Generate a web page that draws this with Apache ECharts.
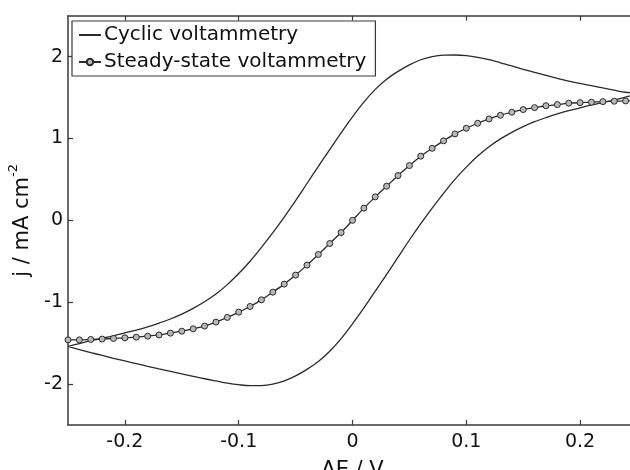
<!DOCTYPE html>
<html>
<head>
<meta charset="utf-8">
<script src="https://cdn.jsdelivr.net/npm/echarts@6/dist/echarts.min.js"></script>
<style>html,body{margin:0;padding:0;background:#fff;}#c{width:630px;height:470px;}</style>
</head>
<body>
<div id="c"></div>
<script>
var xTicks = [-0.2, -0.1, 0, 0.1, 0.2];
var yTicks = [-2, -1, 0, 1, 2];

// Cyclic voltammetry, forward (lower) branch, E increasing
var cvForwardE = [-0.25,-0.24,-0.23,-0.22,-0.21,-0.20,-0.19,-0.18,-0.17,-0.16,-0.15,-0.14,-0.13,-0.12,-0.11,-0.10,-0.09,-0.08,-0.07,-0.06,-0.05,-0.04,-0.03,-0.02,-0.01,0.00,0.01,0.02,0.03,0.04,0.05,0.06,0.07,0.08,0.09,0.10,0.11,0.12,0.13,0.14,0.15,0.16,0.17,0.18,0.19,0.20,0.21,0.22,0.23,0.24,0.25];
var cvForwardJ = [-1.54,-1.578,-1.615,-1.65,-1.685,-1.718,-1.75,-1.783,-1.815,-1.845,-1.875,-1.905,-1.935,-1.962,-1.988,-2.008,-2.02,-2.018,-2.0,-1.962,-1.9,-1.82,-1.725,-1.60,-1.445,-1.265,-1.07,-0.865,-0.66,-0.45,-0.24,-0.04,0.15,0.33,0.50,0.65,0.785,0.90,0.995,1.075,1.145,1.205,1.255,1.30,1.34,1.375,1.41,1.44,1.47,1.505,1.55];

// Cyclic voltammetry, reverse (upper) branch, E decreasing
var cvReverseE = [0.25,0.24,0.23,0.22,0.21,0.20,0.19,0.18,0.17,0.16,0.15,0.14,0.13,0.12,0.11,0.10,0.09,0.08,0.07,0.06,0.05,0.04,0.03,0.02,0.01,0.00,-0.01,-0.02,-0.03,-0.04,-0.05,-0.06,-0.07,-0.08,-0.09,-0.10,-0.11,-0.12,-0.13,-0.14,-0.15,-0.16,-0.17,-0.18,-0.19,-0.20,-0.21,-0.22,-0.23,-0.24,-0.25];
var cvReverseJ = [1.55,1.565,1.59,1.617,1.645,1.672,1.70,1.735,1.77,1.808,1.845,1.888,1.925,1.962,1.992,2.012,2.02,2.018,2.0,1.962,1.9,1.82,1.725,1.60,1.445,1.265,1.07,0.865,0.66,0.45,0.24,0.04,-0.15,-0.33,-0.50,-0.65,-0.785,-0.90,-0.995,-1.075,-1.145,-1.205,-1.255,-1.30,-1.34,-1.375,-1.41,-1.44,-1.47,-1.505,-1.54];

// Steady-state voltammetry (markers every 10 mV)
var ssE = [-0.25,-0.24,-0.23,-0.22,-0.21,-0.20,-0.19,-0.18,-0.17,-0.16,-0.15,-0.14,-0.13,-0.12,-0.11,-0.10,-0.09,-0.08,-0.07,-0.06,-0.05,-0.04,-0.03,-0.02,-0.01,0.00,0.01,0.02,0.03,0.04,0.05,0.06,0.07,0.08,0.09,0.10,0.11,0.12,0.13,0.14,0.15,0.16,0.17,0.18,0.19,0.20,0.21,0.22,0.23,0.24,0.25];
var ssJ = [-1.46,-1.46,-1.455,-1.45,-1.443,-1.435,-1.427,-1.415,-1.40,-1.378,-1.354,-1.325,-1.292,-1.243,-1.186,-1.121,-1.052,-0.971,-0.877,-0.779,-0.669,-0.547,-0.417,-0.283,-0.149,0,0.149,0.287,0.417,0.547,0.669,0.784,0.88,0.971,1.056,1.125,1.186,1.239,1.284,1.321,1.353,1.377,1.40,1.414,1.431,1.438,1.443,1.45,1.455,1.459,1.46];

function pairs(xs, ys) { return xs.map(function (x, i) { return [x, ys[i]]; }); }
var cvData = pairs(cvForwardE, cvForwardJ).concat(pairs(cvReverseE, cvReverseJ).slice(1));
var ssData = pairs(ssE, ssJ);

var FONT = 'DejaVu Sans';
var AX = '#3a3a3a';
var chart = echarts.init(document.getElementById('c'), null, { renderer: 'canvas' });
var axisCommon = {
  axisLine: { show: true, onZero: false, lineStyle: { color: AX, width: 1.5 } },
  splitLine: { show: false }
};
chart.setOption({
  animation: false,
  backgroundColor: '#fff',
  grid: { left: 68, top: 15.7, width: 569, height: 409.3, containLabel: false, outerBoundsMode: 'none' },
  legend: {
    orient: 'vertical', left: 72, top: 21,
    padding: [3, 9, 3, 6], itemGap: 5, itemWidth: 22, itemHeight: 8,
    backgroundColor: '#fff', borderColor: AX, borderWidth: 1.2, borderRadius: 0,
    textStyle: { fontFamily: FONT, fontSize: 20, color: '#111', lineHeight: 22, padding: [0, 0, 0, -2] },
    data: [
      { name: 'Cyclic voltammetry', itemStyle: { opacity: 0 } },
      { name: 'Steady-state voltammetry' }
    ]
  },
  xAxis: [
    Object.assign({}, axisCommon, {
      type: 'value', min: -0.25, max: 0.25, position: 'bottom',
      name: 'ΔE / V', nameLocation: 'middle', nameGap: 35,
      nameTextStyle: { fontFamily: FONT, fontSize: 21, color: '#111' },
      axisTick: { inside: true, length: 5, lineStyle: { color: AX, width: 1.2 }, customValues: xTicks },
      axisLabel: { fontFamily: FONT, fontSize: 19, color: '#111', margin: 8, customValues: xTicks,
        formatter: function (v) { return String(Math.round(v * 10) / 10); } }
    }),
    Object.assign({}, axisCommon, {
      type: 'value', min: -0.25, max: 0.25, position: 'top',
      axisTick: { inside: true, length: 5, lineStyle: { color: AX, width: 1.2 }, customValues: xTicks },
      axisLabel: { show: false }
    })
  ],
  yAxis: [
    Object.assign({}, axisCommon, {
      type: 'value', min: -2.5, max: 2.5, position: 'left',
      name: '{a|j / mA cm}{b|-2}', nameLocation: 'middle', nameGap: 35,
      nameTextStyle: { fontFamily: FONT, color: '#111',
        rich: { a: { fontFamily: FONT, fontSize: 21, color: '#111', verticalAlign: 'bottom', lineHeight: 26 },
                b: { fontFamily: FONT, fontSize: 13, color: '#111', verticalAlign: 'top', lineHeight: 26 } } },
      axisTick: { inside: true, length: 5, lineStyle: { color: AX, width: 1.2 }, customValues: yTicks },
      axisLabel: { fontFamily: FONT, fontSize: 19, color: '#111', margin: 5, customValues: yTicks }
    }),
    Object.assign({}, axisCommon, {
      type: 'value', min: -2.5, max: 2.5, position: 'right',
      axisTick: { inside: true, length: 5, lineStyle: { color: AX, width: 1.2 }, customValues: yTicks },
      axisLabel: { show: false }
    })
  ],
  series: [
    {
      name: 'Cyclic voltammetry', type: 'line', data: cvData, smooth: 0.35,
      showSymbol: false, symbol: 'none',
      lineStyle: { color: '#2a2a2a', width: 1.3 }, itemStyle: { color: '#2a2a2a' }
    },
    {
      name: 'Steady-state voltammetry', type: 'line', data: ssData, smooth: 0.3,
      symbol: 'circle', symbolSize: 6, showSymbol: true,
      lineStyle: { color: '#2a2a2a', width: 1.3 },
      itemStyle: { color: '#b8b8b8', borderColor: '#2a2a2a', borderWidth: 1 }
    }
  ]
});
</script>
</body>
</html>
